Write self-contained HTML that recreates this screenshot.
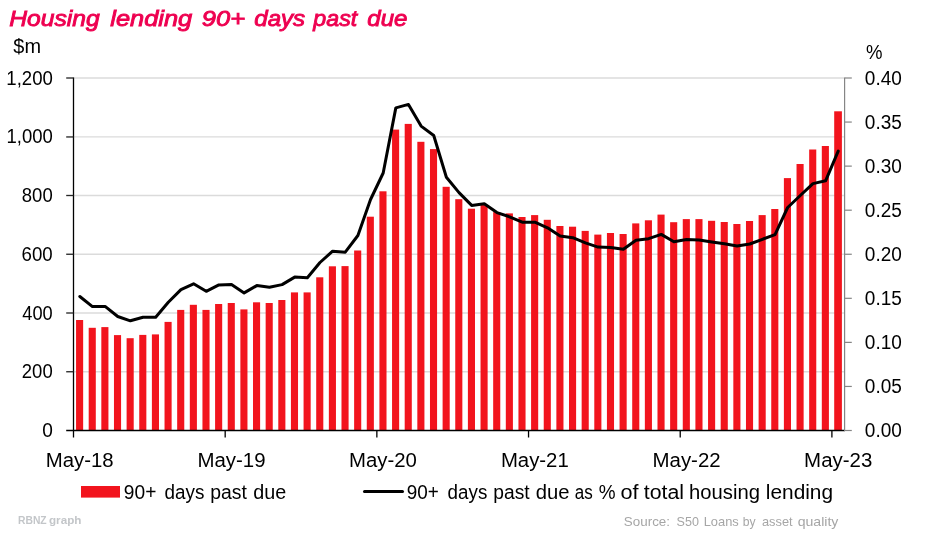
<!DOCTYPE html>
<html><head><meta charset="utf-8"><title>Housing lending 90+ days past due</title>
<style>
html,body{margin:0;padding:0;background:#fff;}
body{width:925px;height:541px;overflow:hidden;}
svg{display:block;}
text{font-family:"Liberation Sans",sans-serif;white-space:pre;}
.ax{font-size:19.4px;fill:#000;}
.ttl{font-size:22.8px;font-style:italic;fill:#EE0050;stroke:#EE0050;stroke-width:0.9px;}
.src{font-size:12.8px;fill:#A6A6A6;}
.rb{font-size:11.2px;font-weight:bold;fill:#C3C6C9;}
</style></head><body>
<svg width="925" height="541" viewBox="0 0 925 541">
<rect width="925" height="541" fill="#fff"/>

<g stroke="#DBDBDB" stroke-width="1.33">
<line x1="73.5" y1="371.75" x2="844" y2="371.75"/>
<line x1="73.5" y1="313.00" x2="844" y2="313.00"/>
<line x1="73.5" y1="254.25" x2="844" y2="254.25"/>
<line x1="73.5" y1="195.50" x2="844" y2="195.50"/>
<line x1="73.5" y1="136.95" x2="844" y2="136.95"/>
<line x1="73.5" y1="78.00" x2="844" y2="78.00"/>
</g>
<g fill="#F2141D">
<rect x="76.05" y="320.0" width="7.1" height="110.0"/>
<rect x="88.69" y="327.8" width="7.1" height="102.2"/>
<rect x="101.33" y="327.1" width="7.1" height="102.9"/>
<rect x="113.97" y="335.1" width="7.1" height="94.9"/>
<rect x="126.61" y="338.2" width="7.1" height="91.8"/>
<rect x="139.25" y="334.9" width="7.1" height="95.1"/>
<rect x="151.89" y="334.4" width="7.1" height="95.6"/>
<rect x="164.53" y="321.9" width="7.1" height="108.1"/>
<rect x="177.17" y="309.9" width="7.1" height="120.1"/>
<rect x="189.81" y="304.8" width="7.1" height="125.2"/>
<rect x="202.45" y="309.9" width="7.1" height="120.1"/>
<rect x="215.09" y="304.0" width="7.1" height="126.0"/>
<rect x="227.73" y="303.0" width="7.1" height="127.0"/>
<rect x="240.37" y="309.4" width="7.1" height="120.6"/>
<rect x="253.01" y="302.3" width="7.1" height="127.7"/>
<rect x="265.65" y="303.0" width="7.1" height="127.0"/>
<rect x="278.29" y="300.0" width="7.1" height="130.0"/>
<rect x="290.93" y="292.4" width="7.1" height="137.6"/>
<rect x="303.57" y="292.4" width="7.1" height="137.6"/>
<rect x="316.21" y="277.3" width="7.1" height="152.7"/>
<rect x="328.85" y="266.3" width="7.1" height="163.7"/>
<rect x="341.49" y="266.1" width="7.1" height="163.9"/>
<rect x="354.13" y="250.5" width="7.1" height="179.5"/>
<rect x="366.77" y="216.7" width="7.1" height="213.3"/>
<rect x="379.41" y="191.3" width="7.1" height="238.7"/>
<rect x="392.05" y="129.6" width="7.1" height="300.4"/>
<rect x="404.69" y="123.9" width="7.1" height="306.1"/>
<rect x="417.33" y="141.8" width="7.1" height="288.2"/>
<rect x="429.97" y="149.1" width="7.1" height="280.9"/>
<rect x="442.61" y="186.8" width="7.1" height="243.2"/>
<rect x="455.25" y="199.2" width="7.1" height="230.8"/>
<rect x="467.89" y="208.7" width="7.1" height="221.3"/>
<rect x="480.53" y="205.0" width="7.1" height="225.0"/>
<rect x="493.17" y="212.1" width="7.1" height="217.9"/>
<rect x="505.81" y="213.4" width="7.1" height="216.6"/>
<rect x="518.45" y="217.0" width="7.1" height="213.0"/>
<rect x="531.09" y="215.1" width="7.1" height="214.9"/>
<rect x="543.73" y="219.8" width="7.1" height="210.2"/>
<rect x="556.37" y="226.0" width="7.1" height="204.0"/>
<rect x="569.01" y="226.7" width="7.1" height="203.3"/>
<rect x="581.65" y="230.9" width="7.1" height="199.1"/>
<rect x="594.29" y="234.6" width="7.1" height="195.4"/>
<rect x="606.93" y="233.0" width="7.1" height="197.0"/>
<rect x="619.57" y="234.0" width="7.1" height="196.0"/>
<rect x="632.21" y="223.4" width="7.1" height="206.6"/>
<rect x="644.85" y="220.3" width="7.1" height="209.7"/>
<rect x="657.49" y="214.6" width="7.1" height="215.4"/>
<rect x="670.13" y="222.2" width="7.1" height="207.8"/>
<rect x="682.77" y="219.1" width="7.1" height="210.9"/>
<rect x="695.41" y="219.1" width="7.1" height="210.9"/>
<rect x="708.05" y="220.8" width="7.1" height="209.2"/>
<rect x="720.69" y="222.0" width="7.1" height="208.0"/>
<rect x="733.33" y="224.0" width="7.1" height="206.0"/>
<rect x="745.97" y="221.0" width="7.1" height="209.0"/>
<rect x="758.61" y="215.1" width="7.1" height="214.9"/>
<rect x="771.25" y="209.0" width="7.1" height="221.0"/>
<rect x="783.89" y="178.1" width="7.1" height="251.9"/>
<rect x="796.53" y="164.0" width="7.1" height="266.0"/>
<rect x="809.17" y="149.5" width="7.1" height="280.5"/>
<rect x="821.81" y="146.0" width="7.1" height="284.0"/>
<rect x="834.20" y="111.3" width="7.7" height="318.7"/>
</g>
<g stroke="#000" stroke-width="1.3" fill="none">
<line x1="73.5" y1="77.4" x2="73.5" y2="437.5"/>
<line x1="66.2" y1="430.5" x2="845" y2="430.5"/>
<line x1="225.18" y1="430.5" x2="225.18" y2="437.5"/>
<line x1="376.86" y1="430.5" x2="376.86" y2="437.5"/>
<line x1="528.54" y1="430.5" x2="528.54" y2="437.5"/>
<line x1="680.22" y1="430.5" x2="680.22" y2="437.5"/>
<line x1="831.90" y1="430.5" x2="831.90" y2="437.5"/>
</g>
<g stroke="#262626" stroke-width="1.33">
<line x1="66.2" y1="371.75" x2="73.5" y2="371.75"/>
<line x1="66.2" y1="313.00" x2="73.5" y2="313.00"/>
<line x1="66.2" y1="254.25" x2="73.5" y2="254.25"/>
<line x1="66.2" y1="195.50" x2="73.5" y2="195.50"/>
<line x1="66.2" y1="136.95" x2="73.5" y2="136.95"/>
<line x1="66.2" y1="78.00" x2="73.5" y2="78.00"/>
</g>
<g stroke="#858585" stroke-width="1.2">
<line x1="844.6" y1="77.4" x2="844.6" y2="431.1"/>
<line x1="844.6" y1="430.50" x2="851.8" y2="430.50"/>
<line x1="844.6" y1="386.44" x2="851.8" y2="386.44"/>
<line x1="844.6" y1="342.38" x2="851.8" y2="342.38"/>
<line x1="844.6" y1="298.31" x2="851.8" y2="298.31"/>
<line x1="844.6" y1="254.25" x2="851.8" y2="254.25"/>
<line x1="844.6" y1="210.19" x2="851.8" y2="210.19"/>
<line x1="844.6" y1="166.12" x2="851.8" y2="166.12"/>
<line x1="844.6" y1="122.06" x2="851.8" y2="122.06"/>
<line x1="844.6" y1="78.00" x2="851.8" y2="78.00"/>
</g>
<polyline points="79.82,296.5 92.46,306.6 105.10,306.4 117.74,316.5 130.38,320.8 143.02,317.2 155.66,317.2 168.30,302.2 180.94,289.6 193.58,283.8 206.22,291.3 218.86,284.9 231.50,284.6 244.14,292.9 256.78,285.6 269.42,287.3 282.06,284.6 294.70,277.1 307.34,277.8 319.98,262.5 332.62,251.2 345.26,252.2 357.90,235.5 370.54,199.5 383.18,173.0 395.82,107.9 408.46,104.4 421.10,126.1 433.74,135.5 446.38,177.3 459.02,192.6 471.66,205.4 484.30,203.7 496.94,212.6 509.58,216.8 522.22,222.2 534.86,222.2 547.50,227.8 560.14,236.1 572.78,237.7 585.42,242.9 598.06,247.1 610.70,247.4 623.34,249.3 635.98,240.3 648.62,238.7 661.26,234.4 673.90,241.7 686.54,239.6 699.18,240.1 711.82,242.0 724.46,243.8 737.10,246.1 749.74,244.0 762.38,239.3 775.02,234.7 787.66,207.5 800.30,195.5 812.94,183.6 825.58,180.8 838.22,151.1" fill="none" stroke="#000" stroke-width="3" stroke-linejoin="round" stroke-linecap="round"/>
<rect x="81" y="486" width="39" height="11.6" fill="#F2141D"/>
<line x1="364.5" y1="491.6" x2="402.5" y2="491.6" stroke="#000" stroke-width="3" stroke-linecap="round"/>
<text id="ttl0" class="ttl" x="9.23" y="26.2" textLength="90.48" lengthAdjust="spacingAndGlyphs">Housing</text>
<text id="ttl1" class="ttl" x="110.28" y="26.2" textLength="81.98" lengthAdjust="spacingAndGlyphs">lending</text>
<text id="ttl2" class="ttl" x="201.79" y="26.2" textLength="43.27" lengthAdjust="spacingAndGlyphs">90+</text>
<text id="ttl3" class="ttl" x="254.29" y="26.2" textLength="50.87" lengthAdjust="spacingAndGlyphs">days</text>
<text id="ttl4" class="ttl" x="313.37" y="26.2" textLength="43.85" lengthAdjust="spacingAndGlyphs">past</text>
<text id="ttl5" class="ttl" x="367.38" y="26.2" textLength="40.08" lengthAdjust="spacingAndGlyphs">due</text>
<text id="dm" class="ax" x="13.39" y="52.9" textLength="27.68" lengthAdjust="spacingAndGlyphs">$m</text>
<text id="pc" class="ax" x="865.98" y="59.1" textLength="16.50" lengthAdjust="spacingAndGlyphs">%</text>
<text id="l0" class="ax" x="42.26" y="437.1" textLength="10.62" lengthAdjust="spacingAndGlyphs">0</text>
<text id="l1" class="ax" x="21.82" y="378.4" textLength="30.88" lengthAdjust="spacingAndGlyphs">200</text>
<text id="l2" class="ax" x="22.30" y="319.6" textLength="30.39" lengthAdjust="spacingAndGlyphs">400</text>
<text id="l3" class="ax" x="21.58" y="260.9" textLength="31.13" lengthAdjust="spacingAndGlyphs">600</text>
<text id="l4" class="ax" x="21.82" y="202.1" textLength="30.88" lengthAdjust="spacingAndGlyphs">800</text>
<text id="l5" class="ax" x="6.52" y="143.3" textLength="46.31" lengthAdjust="spacingAndGlyphs">1,000</text>
<text id="l6" class="ax" x="6.30" y="84.6" textLength="46.55" lengthAdjust="spacingAndGlyphs">1,200</text>
<text id="r0" class="ax" x="864.81" y="437.1" textLength="37.03" lengthAdjust="spacingAndGlyphs">0.00</text>
<text id="r1" class="ax" x="864.81" y="393.0" textLength="37.03" lengthAdjust="spacingAndGlyphs">0.05</text>
<text id="r2" class="ax" x="864.81" y="349.0" textLength="37.03" lengthAdjust="spacingAndGlyphs">0.10</text>
<text id="r3" class="ax" x="864.81" y="304.9" textLength="37.03" lengthAdjust="spacingAndGlyphs">0.15</text>
<text id="r4" class="ax" x="864.81" y="260.9" textLength="37.03" lengthAdjust="spacingAndGlyphs">0.20</text>
<text id="r5" class="ax" x="864.81" y="216.8" textLength="37.03" lengthAdjust="spacingAndGlyphs">0.25</text>
<text id="r6" class="ax" x="864.81" y="172.7" textLength="37.03" lengthAdjust="spacingAndGlyphs">0.30</text>
<text id="r7" class="ax" x="864.81" y="128.7" textLength="37.03" lengthAdjust="spacingAndGlyphs">0.35</text>
<text id="r8" class="ax" x="864.81" y="84.6" textLength="37.03" lengthAdjust="spacingAndGlyphs">0.40</text>
<text id="x0" class="ax" x="45.82" y="466.9" textLength="67.88" lengthAdjust="spacingAndGlyphs">May-18</text>
<text id="x1" class="ax" x="197.42" y="466.9" textLength="68.15" lengthAdjust="spacingAndGlyphs">May-19</text>
<text id="x2" class="ax" x="349.03" y="466.9" textLength="67.88" lengthAdjust="spacingAndGlyphs">May-20</text>
<text id="x3" class="ax" x="500.90" y="466.9" textLength="67.88" lengthAdjust="spacingAndGlyphs">May-21</text>
<text id="x4" class="ax" x="652.50" y="466.9" textLength="68.15" lengthAdjust="spacingAndGlyphs">May-22</text>
<text id="x5" class="ax" x="804.11" y="466.9" textLength="68.15" lengthAdjust="spacingAndGlyphs">May-23</text>
<text id="lga0" class="ax" x="123.86" y="498.5" textLength="32.48" lengthAdjust="spacingAndGlyphs">90+</text>
<text id="lga1" class="ax" x="164.62" y="498.5" textLength="39.89" lengthAdjust="spacingAndGlyphs">days</text>
<text id="lga2" class="ax" x="210.30" y="498.5" textLength="36.66" lengthAdjust="spacingAndGlyphs">past</text>
<text id="lga3" class="ax" x="253.29" y="498.5" textLength="32.99" lengthAdjust="spacingAndGlyphs">due</text>
<text id="lgb0" class="ax" x="406.87" y="498.6" textLength="32.06" lengthAdjust="spacingAndGlyphs">90+</text>
<text id="lgb1" class="ax" x="447.62" y="498.6" textLength="39.68" lengthAdjust="spacingAndGlyphs">days</text>
<text id="lgb2" class="ax" x="493.31" y="498.6" textLength="36.35" lengthAdjust="spacingAndGlyphs">past</text>
<text id="lgb3" class="ax" x="535.86" y="498.6" textLength="33.78" lengthAdjust="spacingAndGlyphs">due</text>
<text id="lgb4" class="ax" x="574.87" y="498.6" textLength="17.98" lengthAdjust="spacingAndGlyphs">as</text>
<text id="lgb5" class="ax" x="598.66" y="498.6" textLength="16.82" lengthAdjust="spacingAndGlyphs">%</text>
<text id="lgb6" class="ax" x="620.52" y="498.6" textLength="18.05" lengthAdjust="spacingAndGlyphs">of</text>
<text id="lgb7" class="ax" x="643.73" y="498.6" textLength="40.24" lengthAdjust="spacingAndGlyphs">total</text>
<text id="lgb8" class="ax" x="689.05" y="498.6" textLength="70.84" lengthAdjust="spacingAndGlyphs">housing</text>
<text id="lgb9" class="ax" x="765.87" y="498.6" textLength="67.17" lengthAdjust="spacingAndGlyphs">lending</text>
<text id="rb0" class="rb" x="18.00" y="523.9" textLength="28.66" lengthAdjust="spacingAndGlyphs">RBNZ</text>
<text id="rb1" class="rb" x="48.98" y="523.9" textLength="32.42" lengthAdjust="spacingAndGlyphs">graph</text>
<text id="src0" class="src" x="623.86" y="525.6" textLength="46.15" lengthAdjust="spacingAndGlyphs">Source:</text>
<text id="src1" class="src" x="676.61" y="525.6" textLength="22.36" lengthAdjust="spacingAndGlyphs">S50</text>
<text id="src2" class="src" x="703.69" y="525.6" textLength="35.08" lengthAdjust="spacingAndGlyphs">Loans</text>
<text id="src3" class="src" x="742.64" y="525.6" textLength="12.83" lengthAdjust="spacingAndGlyphs">by</text>
<text id="src4" class="src" x="762.00" y="525.6" textLength="30.59" lengthAdjust="spacingAndGlyphs">asset</text>
<text id="src5" class="src" x="797.66" y="525.6" textLength="40.75" lengthAdjust="spacingAndGlyphs">quality</text>
</svg></body></html>
